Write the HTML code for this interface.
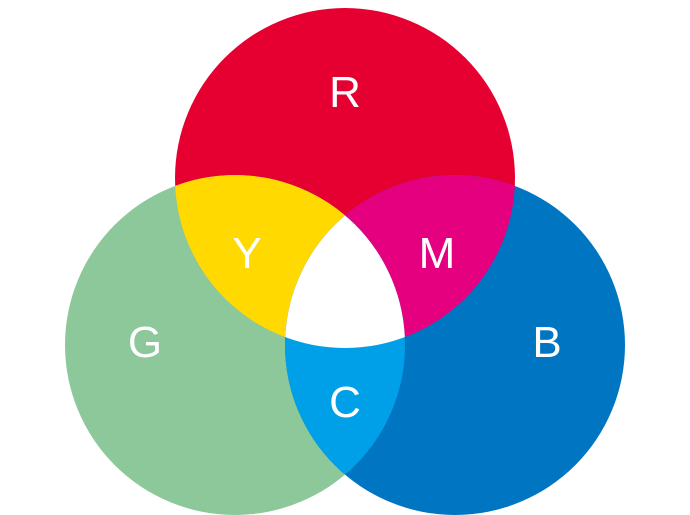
<!DOCTYPE html>
<html><head><style>html,body{margin:0;padding:0;background:#fff}svg{display:block}</style></head>
<body>
<svg width="690" height="515" viewBox="0 0 690 515" xmlns="http://www.w3.org/2000/svg">
<defs>
<clipPath id="cr"><circle cx="345" cy="178" r="170"/></clipPath>
<clipPath id="cg"><circle cx="235" cy="345" r="170"/></clipPath>
<clipPath id="cb"><circle cx="455" cy="345" r="170"/></clipPath>
</defs>
<circle cx="345" cy="178" r="170" fill="#e60032"/>
<circle cx="235" cy="345" r="170" fill="#8cc89a"/>
<circle cx="455" cy="345" r="170" fill="#0075c2"/>
<g clip-path="url(#cr)"><circle cx="235" cy="345" r="170" fill="#ffd900"/><circle cx="455" cy="345" r="170" fill="#e4007f"/></g>
<g clip-path="url(#cg)"><circle cx="455" cy="345" r="170" fill="#00a0e9"/></g>
<g clip-path="url(#cr)"><g clip-path="url(#cg)"><circle cx="455" cy="345" r="170" fill="#fff"/></g></g>
<g font-family="Liberation Sans, DejaVu Sans, sans-serif" font-size="44" fill="#fff" text-anchor="middle">
<text x="345" y="107">R</text>
<text x="247" y="268">Y</text>
<text x="437" y="268">M</text>
<text x="145" y="357">G</text>
<text x="547" y="357">B</text>
<text x="345" y="417">C</text>
</g>
</svg>
</body></html>
